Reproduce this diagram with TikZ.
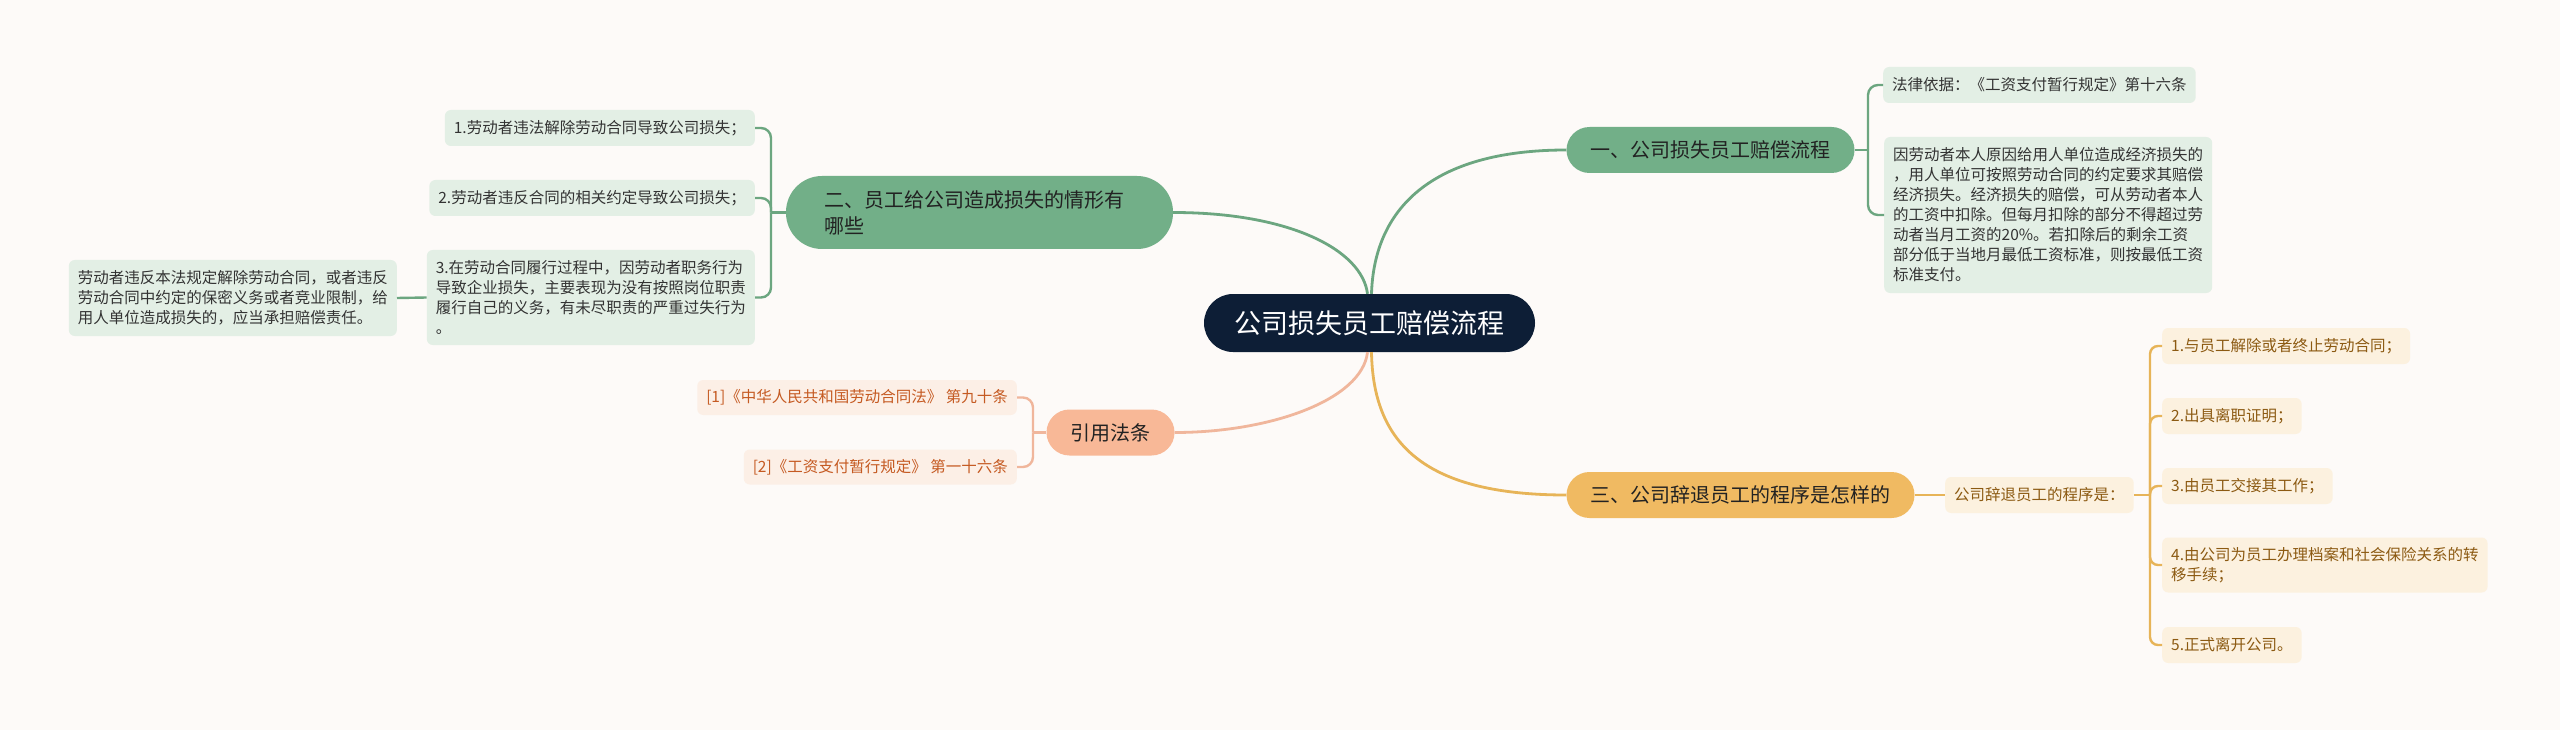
\documentclass[tikz,border=0pt]{standalone}
\usepackage{fontspec}
\setmainfont{Noto Sans CJK SC}
\definecolor{bgc}{HTML}{FDFAF8}
\definecolor{rootc}{HTML}{0D1E36}
\definecolor{gfill}{HTML}{72AF88}
\definecolor{glinec}{HTML}{6CA680}
\definecolor{gchild}{HTML}{E3EFE5}
\definecolor{gtext}{HTML}{333333}
\definecolor{btext}{HTML}{222222}
\definecolor{ofill}{HTML}{F8B897}
\definecolor{olinec}{HTML}{F0B69C}
\definecolor{ochild}{HTML}{FCEFE6}
\definecolor{otext}{HTML}{C55A22}
\definecolor{yfill}{HTML}{F0BA62}
\definecolor{ylinec}{HTML}{E7B458}
\definecolor{ychild}{HTML}{FCF1DF}
\definecolor{ytext}{HTML}{8C5A12}
\tikzset{
  childbase/.style={rounded corners=6pt, inner xsep=9pt, inner ysep=4pt, align=left,
    font=\fontsize{15.5}{20}\selectfont, minimum height=36pt},
  gchildbox/.style={childbase, fill=gchild, text=gtext},
  ochildbox/.style={childbase, fill=ochild, text=otext, minimum height=35pt},
  ychildbox/.style={childbase, fill=ychild, text=ytext},
  rootnode/.style={fill=rootc, text=white, rounded corners=29pt, minimum width=331pt,
    minimum height=58pt, font=\fontsize{27}{32}\selectfont},
  branchbase/.style={rounded corners=23pt, minimum height=46pt, inner xsep=24pt, align=left,
    text=btext, font=\fontsize{20}{26}\selectfont},
  gbranch/.style={branchbase, fill=gfill},
  obranch/.style={branchbase, fill=ofill},
  ybranch/.style={branchbase, fill=yfill},
  gconn/.style={draw=glinec, line width=2.8pt},
  oconn/.style={draw=olinec, line width=2.8pt},
  yconn/.style={draw=ylinec, line width=2.8pt},
  gbr/.style={draw=glinec, line width=2.4pt, rounded corners=10pt},
  obr/.style={draw=olinec, line width=2.4pt, rounded corners=10pt},
  ybr/.style={draw=ylinec, line width=2.4pt, rounded corners=8pt},
}
\begin{document}
\begin{tikzpicture}[x=1pt,y=-1pt]
\fill[bgc] (0,0) rectangle (2560,730);
\useasboundingbox (0,0) rectangle (2560,730);

% root
\node[rootnode] (root) at (1369.5,323) {公司损失员工赔偿流程};

% branches
\node[gbranch] (b1) at (1710.5,150) {一、公司损失员工赔偿流程};
\node[gbranch, text width=311pt, inner xsep=38pt, minimum height=73pt, rounded corners=36pt] (b2) at (979.5,212.5) {二、员工给公司造成损失的情形有\\哪些};
\node[obranch] (b4) at (1110.5,432.5) {引用法条};
\node[ybranch] (b3) at (1740.5,495) {三、公司辞退员工的程序是怎样的};

% branch 1 children
\node[gchildbox, anchor=west] (b1c1) at (1883,85) {法律依据：《工资支付暂行规定》第十六条};
\node[gchildbox, anchor=west, minimum height=156pt] (b1c2) at (1884,215) {因劳动者本人原因给用人单位造成经济损失的\\，用人单位可按照劳动合同的约定要求其赔偿\\经济损失。经济损失的赔偿，可从劳动者本人\\的工资中扣除。但每月扣除的部分不得超过劳\\动者当月工资的20\%。若扣除后的剩余工资\\部分低于当地月最低工资标准，则按最低工资\\标准支付。};

% branch 2 children
\node[gchildbox, anchor=east] (b2c1) at (755,128) {1.劳动者违法解除劳动合同导致公司损失；};
\node[gchildbox, anchor=east] (b2c2) at (755,198) {2.劳动者违反合同的相关约定导致公司损失；};
\node[gchildbox, anchor=east, minimum height=95pt] (b2c3) at (755,297.5) {3.在劳动合同履行过程中，因劳动者职务行为\\导致企业损失，主要表现为没有按照岗位职责\\履行自己的义务，有未尽职责的严重过失行为\\。};
\node[gchildbox, anchor=east, minimum height=76pt] (b2c3a) at (397,298) {劳动者违反本法规定解除劳动合同，或者违反\\劳动合同中约定的保密义务或者竞业限制，给\\用人单位造成损失的，应当承担赔偿责任。};

% branch 4 children
\node[ochildbox, anchor=east] (b4c1) at (1017,397.5) {[1]《中华人民共和国劳动合同法》 第九十条};
\node[ochildbox, anchor=east] (b4c2) at (1017,467) {[2]《工资支付暂行规定》 第一十六条};

% branch 3 children
\node[ychildbox, anchor=west] (b3c) at (1945,495) {公司辞退员工的程序是：};
\node[ychildbox, anchor=west] (b3c1) at (2162,346) {1.与员工解除或者终止劳动合同；};
\node[ychildbox, anchor=west] (b3c2) at (2162,416) {2.出具离职证明；};
\node[ychildbox, anchor=west] (b3c3) at (2162,486) {3.由员工交接其工作；};
\node[ychildbox, anchor=west, minimum height=55pt] (b3c4) at (2162,565) {4.由公司为员工办理档案和社会保险关系的转\\移手续；};
\node[ychildbox, anchor=west] (b3c5) at (2162,645) {5.正式离开公司。};

% root connectors
\draw[gconn] ([xshift=2pt]root.north) .. controls (1374,210) and (1430,150) .. (b1.west);
\draw[gconn] ([xshift=-2pt]root.north) .. controls (1362,250) and (1290,212.5) .. (b2.east);
\draw[oconn] ([xshift=-2pt]root.south) .. controls (1362,400) and (1270,432.5) .. (b4.east);
\draw[yconn] ([xshift=2pt]root.south) .. controls (1373,440) and (1420,495) .. (b3.west);

% bracket joints
\coordinate (j1) at (1868,150);
\coordinate (j2) at (771,212.5);
\coordinate (j4) at (1033,432.5);
\coordinate (j3) at (2150,495);

% branch 1 bracket
\draw[gbr] (b1.east) -- (j1);
\draw[gbr] (j1) |- (b1c1.west);
\draw[gbr] (j1) |- (b1c2.west);

% branch 2 bracket
\draw[gbr] (b2.west) -- (j2);
\draw[gbr] (j2) |- (b2c1.east);
\draw[gbr] (j2) |- (b2c2.east);
\draw[gbr] (j2) |- (b2c3.east);
\draw[gbr] (b2c3.west) -- (b2c3a.east);

% branch 4 bracket
\draw[obr] (b4.west) -- (j4);
\draw[obr] (j4) |- (b4c1.east);
\draw[obr] (j4) |- (b4c2.east);

% branch 3 bracket
\draw[ybr] (b3.east) -- (b3c.west);
\draw[ybr] (b3c.east) -- (j3);
\draw[ybr] (j3) |- (b3c1.west);
\draw[ybr] (j3) |- (b3c2.west);
\draw[ybr] (j3) |- (b3c3.west);
\draw[ybr] (j3) |- (b3c4.west);
\draw[ybr] (j3) |- (b3c5.west);
\end{tikzpicture}
\end{document}
